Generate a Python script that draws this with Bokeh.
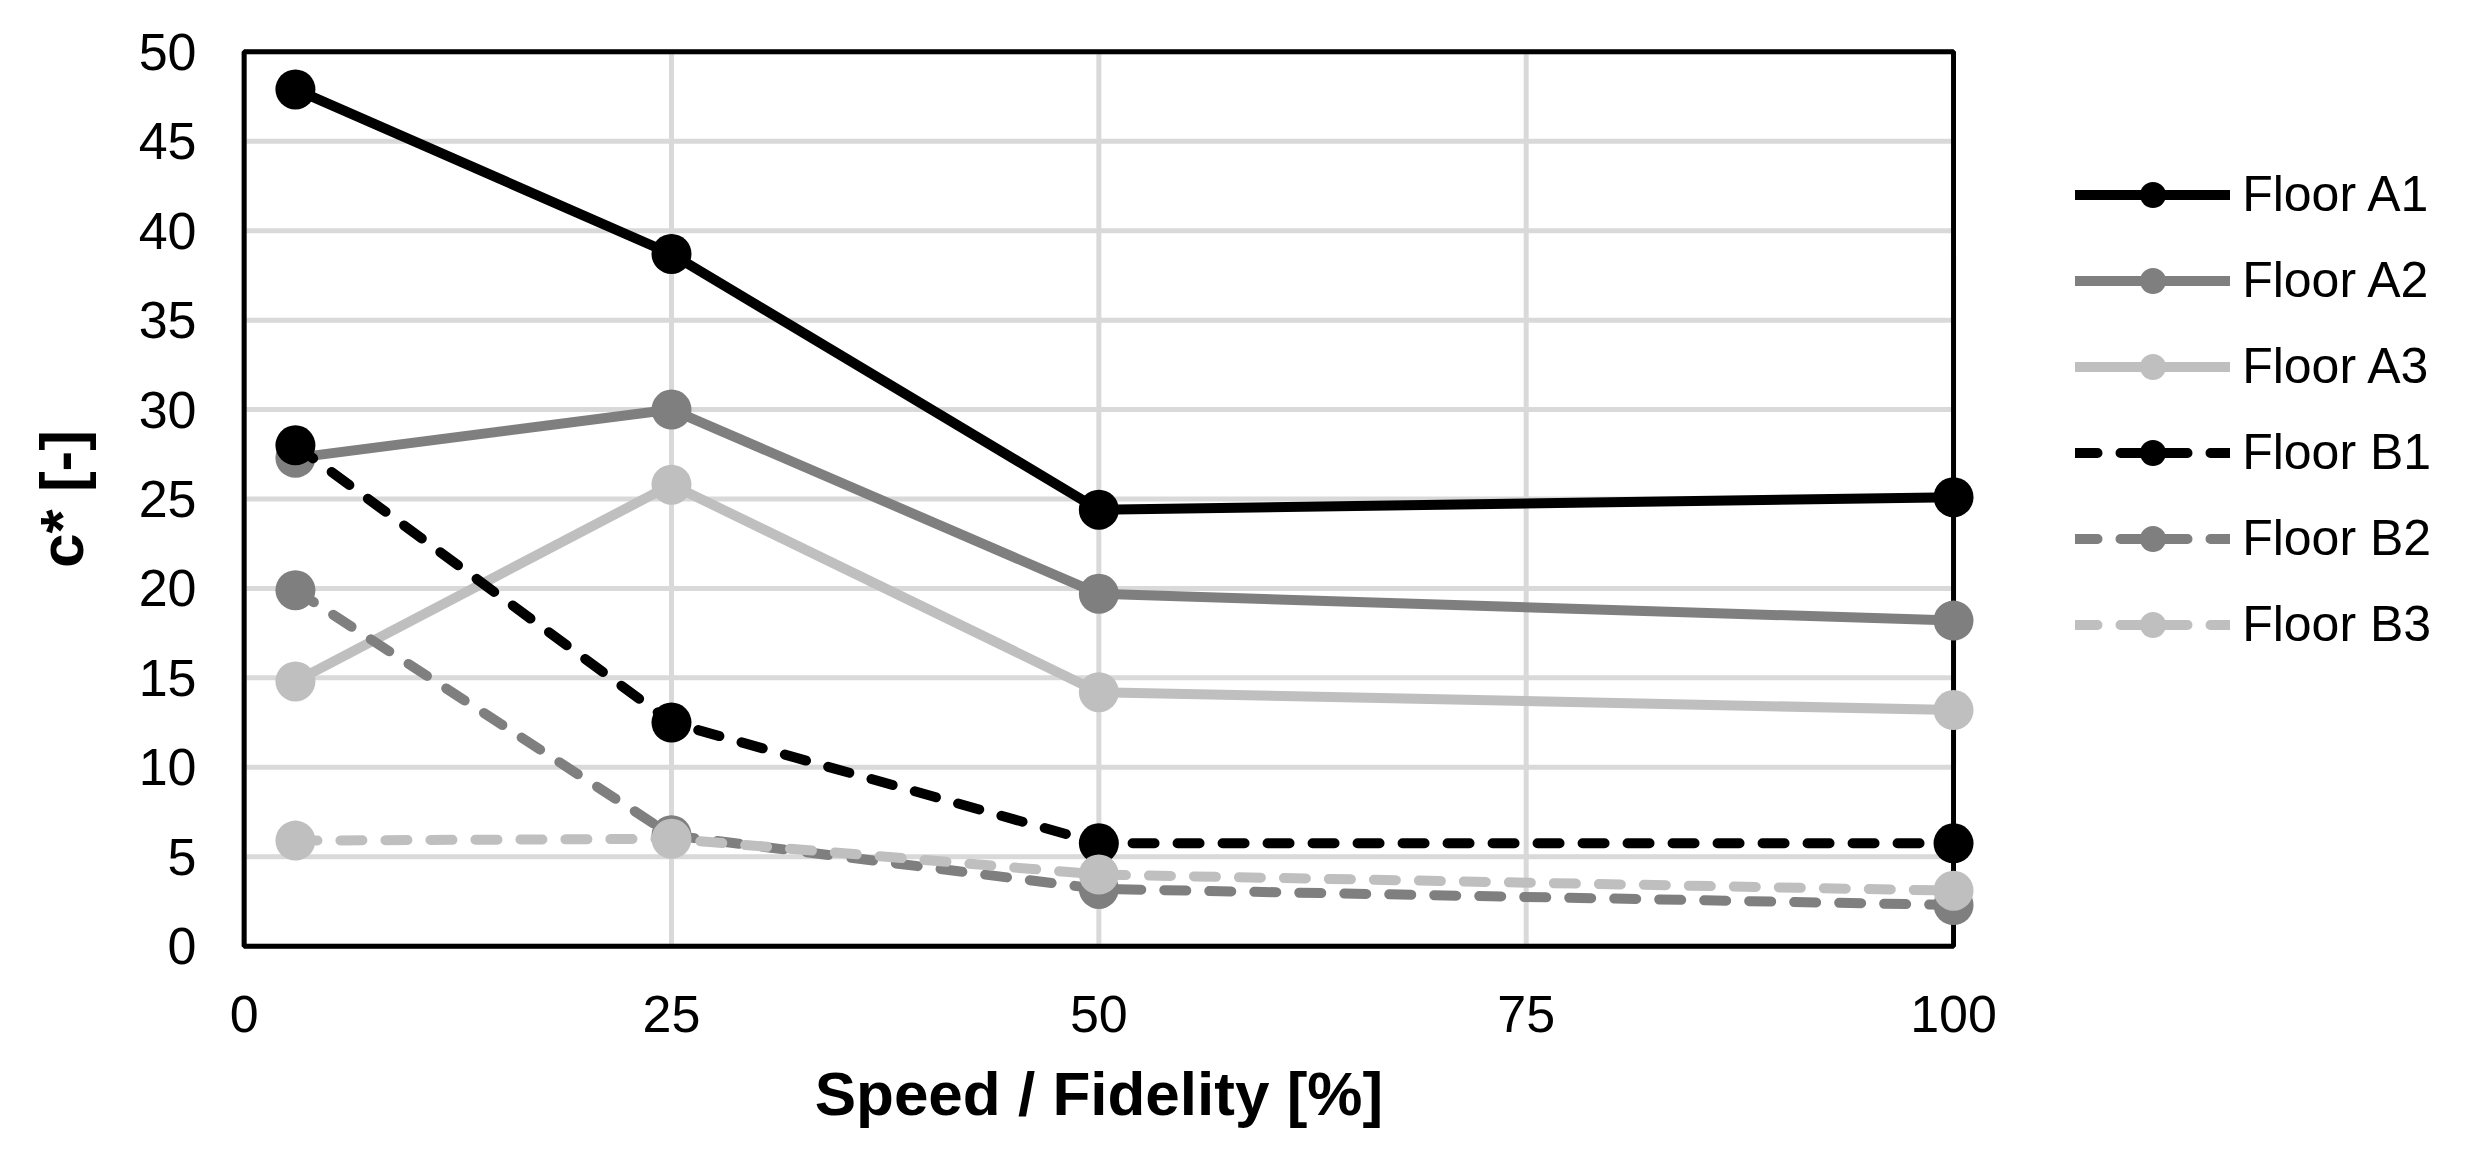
from bokeh.plotting import figure
from bokeh.models import Range1d, FixedTicker, Legend, LegendItem, BoxAnnotation, Title
from bokeh.embed import file_html
from bokeh.resources import INLINE

# ---- data ----
x_vals = [3, 25, 50, 100]
floor_a1 = [47.9, 38.7, 24.4, 25.1]
floor_a2 = [27.3, 30.0, 19.7, 18.2]
floor_a3 = [14.8, 25.8, 14.2, 13.2]
floor_b1 = [28.0, 12.5, 5.75, 5.75]
floor_b2 = [19.9, 6.2, 3.2, 2.3]
floor_b3 = [5.9, 6.0, 4.0, 3.1]
series_names = ["Floor A1", "Floor A2", "Floor A3", "Floor B1", "Floor B2", "Floor B3"]
x_ticks = [0, 25, 50, 75, 100]
y_ticks = [0, 5, 10, 15, 20, 25, 30, 35, 40, 45, 50]

series = [floor_a1, floor_a2, floor_a3, floor_b1, floor_b2, floor_b3]
colors = ["#000000", "#7f7f7f", "#bfbfbf", "#000000", "#7f7f7f", "#bfbfbf"]
dashes = ["solid", "solid", "solid", "22 23", "22 23", "22 23"]

FONT = "Liberation Sans"

# ---- layout (pixels) ----
W, H = 2450, 1155
BOX_L, BOX_R, BOX_T, BOX_B = 243.5, 1953, 51.5, 946   # axes box in figure pixels
PX_X = (BOX_R - BOX_L) / (x_ticks[-1] - x_ticks[0])
PX_Y = (BOX_B - BOX_T) / (y_ticks[-1] - y_ticks[0])
XPAD = 1.5           # room left of the box (data units)
YPAD = 0.3           # keep the box outline fully visible
x_start = x_ticks[0] - XPAD
x_end = x_ticks[-1] + (W - BOX_R) / PX_X   # frame reaches the right edge; legend sits there
frame_l = BOX_L - XPAD * PX_X
frame_t = BOX_T - YPAD * PX_Y
frame_b = BOX_B + YPAD * PX_Y

p = figure(width=W, height=H, output_backend="svg", toolbar_location=None,
           x_range=Range1d(x_start, x_end),
           y_range=Range1d(y_ticks[0] - YPAD, y_ticks[-1] + YPAD),
           min_border_left=int(round(frame_l)), min_border_top=int(round(frame_t)),
           min_border_bottom=int(round(H - frame_b)), min_border_right=0)

p.background_fill_color = "white"
p.border_fill_color = "white"
p.outline_line_color = None

p.xaxis.ticker = FixedTicker(ticks=x_ticks)
p.yaxis.ticker = FixedTicker(ticks=y_ticks)

for ax in (p.xaxis, p.yaxis):
    ax.axis_line_color = None
    ax.major_tick_line_color = None
    ax.minor_tick_line_color = None
    ax.major_tick_out = 0
    ax.major_tick_in = 0
    ax.major_label_text_font = FONT
    ax.major_label_text_font_size = "52px"
    ax.major_label_text_color = "black"
    ax.axis_label_text_font = FONT
    ax.axis_label_text_font_size = "62px"
    ax.axis_label_text_font_style = "bold"
    ax.axis_label_text_color = "black"

p.yaxis.axis_label = "c* [-]"
p.xaxis.major_label_standoff = 44
p.yaxis.major_label_standoff = 22
p.yaxis.axis_label_standoff = 40

# x-axis title centred under the axes box
xt_text = "Speed / Fidelity [%]"
xt_width = 9.169 * 62   # Liberation Sans Bold advance widths
xt = Title(text=xt_text, align="left", offset=(BOX_L + BOX_R) / 2 - xt_width / 2 - frame_l,
           text_font=FONT, text_font_size="62px", text_font_style="bold", text_color="black",
           standoff=45)
p.add_layout(xt, "below")

# grid lines restricted to the axes box
p.xgrid.visible = False
p.ygrid.visible = False
p.segment(x0=x_ticks, x1=x_ticks, y0=[y_ticks[0]] * len(x_ticks), y1=[y_ticks[-1]] * len(x_ticks),
          line_color="#d9d9d9", line_width=5, level="image")
p.segment(x0=[x_ticks[0]] * len(y_ticks), x1=[x_ticks[-1]] * len(y_ticks),
          y0=y_ticks, y1=y_ticks, line_color="#d9d9d9", line_width=5, level="image")

# axes box outline, above grid and under the data
box = BoxAnnotation(left=x_ticks[0], right=x_ticks[-1], bottom=y_ticks[0], top=y_ticks[-1],
                    fill_color=None, fill_alpha=0, line_color="black", line_alpha=1.0,
                    line_width=5, level="underlay")
p.add_layout(box)

items = []
for name, ys, c, d in zip(series_names, series, colors, dashes):
    ln = p.line(x_vals, ys, line_color=c, line_width=10, line_dash=d, line_cap="round", line_join="round")
    sc = p.scatter(x_vals, ys, size=40, fill_color=c, line_color=c, line_width=0)
    items.append(LegendItem(label=name, renderers=[ln, sc]))

LEG_GLYPH_LEFT = 2075     # figure pixels
LEG_BOTTOM = 657          # figure pixels
legend = Legend(items=items, location=(LEG_GLYPH_LEFT - frame_l, frame_b - LEG_BOTTOM))
legend.glyph_width = 155
legend.glyph_height = 65
legend.label_height = 65
legend.spacing = 21
legend.padding = 0
legend.margin = 0
legend.label_standoff = 12
legend.label_text_font = FONT
legend.label_text_font_size = "50px"
legend.label_text_color = "black"
legend.border_line_color = None
legend.background_fill_alpha = 0
p.add_layout(legend, "center")

open("out.html", "w").write(file_html(p, INLINE))
